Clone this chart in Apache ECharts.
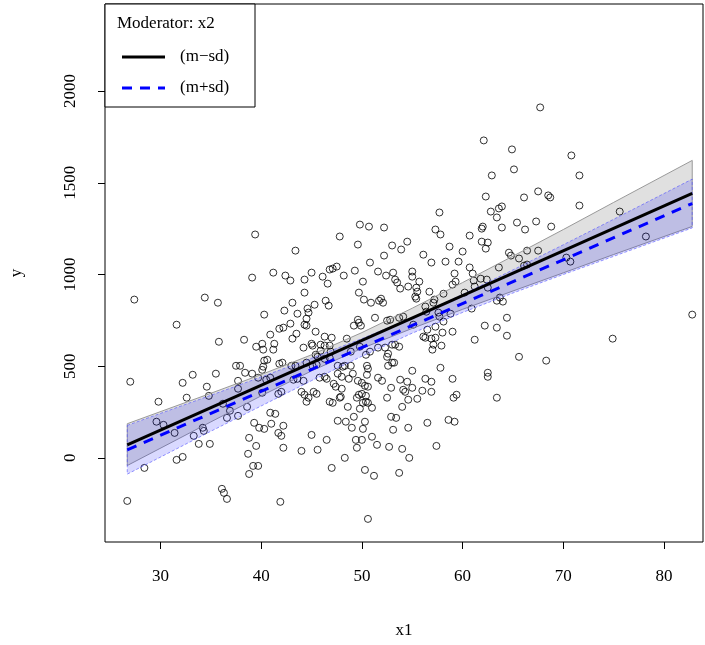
<!DOCTYPE html>
<html><head><meta charset="utf-8">
<script src="https://cdn.jsdelivr.net/npm/echarts@6/dist/echarts.min.js"></script>
<style>html,body{margin:0;padding:0;background:#fff}#c{width:705px;height:645px}</style>
</head><body><div id="c"></div>
<script>
// ---- data ----
var xTicks = [30, 40, 50, 60, 70, 80];
var yTicks = [0, 500, 1000, 1500, 2000];
var seriesNames = ['(m\u2212sd)', '(m+sd)'];
var legendTitle = 'Moderator: x2';

var scatterPts = [
[49.8,1272],[50.7,1261],[52.2,1256],
[67.7,1911],[62.1,1731],[64.9,1682],[65.1,1573],[62.9,1540],[62.3,1425],[66.1,1420],[67.5,1453],[68.5,1431],[68.7,1420],[57.7,1338],[62.8,1343],[63.6,1360],[63.9,1371],[63.4,1311],[67.3,1289],[65.4,1283],[68.8,1261],[62.0,1261],[61.9,1250],[63.9,1256],[66.2,1245],[57.3,1245],
[70.8,1649],[71.6,1540],[71.6,1376],[75.6,1343],
[39.4,1218],[39.1,983],[27.4,863],[34.4,874],[35.7,846],[31.6,726],[35.8,633],[38.3,644],[39.5,606],[37.5,502],[37.9,502],[33.2,453],[35.5,459],[38.4,464],[39.1,459],
[47.8,1207],[49.6,1163],[53.0,1158],[54.5,1179],[43.4,1130],[53.9,1136],[52.2,1103],[50.8,1065],[41.2,1010],[42.4,994],[42.9,967],[44.3,972],[45.0,1010],[46.1,988],[46.6,950],[46.8,1027],[47.1,1032],[47.5,1043],[48.2,994],[49.3,1021],[50.1,961],[51.6,1016],[52.4,994],[53.1,1010],[53.3,972],[53.5,956],[53.8,923],[54.6,934],[44.3,901],[49.7,901],[50.2,863],[50.9,846],[51.7,857],[51.9,868],[52.1,846],[43.1,846],[46.4,857],[46.7,830],[44.6,814],[44.7,792],[42.3,803],[40.3,781],[43.6,786],[45.3,835],[44.5,759],[51.3,764],[52.5,748],[52.8,753],[53.7,764],[54.1,770],[49.6,753],[49.7,737],[49.2,721],[49.9,721],[42.9,732],[44.3,726],[44.5,721],[42.2,710],[41.8,704],[40.9,672],[43.5,677],[43.1,650],[45.4,688],[46.3,661],[47.0,655],[48.5,650],[41.3,622],[40.1,622],[45.0,622],[45.1,612],[45.9,617],[44.2,601],[46.3,612],[46.8,612],[49.8,606],[51.6,601],[52.3,601],[53.0,617],[53.3,617],[53.7,606],[40.2,590],[41.2,590],[45.9,584],[46.9,579],[45.4,562],[45.6,551],[46.3,540],[46.8,546],[48.9,579],[50.4,562],[50.8,579],[52.6,568],[52.5,551],[40.3,530],[40.6,535],[41.8,513],[42.1,519],[45.5,508],[47.6,502],[48.1,497],[48.3,502],[48.9,502],[50.5,502],[50.6,486],[53.0,519],[53.2,519],[52.6,502],[43.0,502],[43.4,502],[40.2,497],[40.1,480],[44.5,519],[45.1,502],[47.6,459],[49.1,459],[50.5,453],
[57.8,1218],[60.7,1212],[61.9,1179],[62.5,1174],[62.3,1141],[58.7,1152],[60.0,1125],[56.1,1108],[56.9,1065],[58.3,1070],[59.6,1070],[64.6,1119],[64.8,1103],[65.6,1087],[66.4,1130],[67.5,1130],[60.7,1038],[61.0,1005],[63.6,1038],[66.1,1048],[66.4,1054],[55.0,1016],[55.0,988],[55.7,961],[59.2,1005],[59.3,961],[59.0,945],[61.1,967],[61.8,977],[62.4,972],[62.5,928],[61.2,934],[55.4,928],[55.5,906],[55.3,879],[55.4,868],[56.7,906],[58.1,895],[60.2,901],[63.7,874],[63.4,857],[64.0,852],[57.2,863],[57.1,846],[56.3,825],[56.4,797],[57.6,792],[57.7,770],[58.8,786],[60.9,814],[55.1,726],[58.1,743],[64.4,764],[57.3,715],[56.5,699],[62.2,721],[63.4,710],[58.0,683],[59.0,688],[56.1,661],[56.3,655],[56.9,650],[57.3,655],[64.4,666],[61.2,644],[57.1,617],[57.9,612],[57.0,590],[65.6,551],[68.3,530],[57.8,491],[55.0,475],[62.5,464],
[70.3,1092],[70.7,1070],[78.2,1207],[82.8,781],[74.9,650],
[27.0,415],[32.2,409],[34.6,388],[34.8,338],[37.7,420],[37.7,377],[39.7,437],[29.8,306],[32.6,328],[36.2,295],[36.9,257],[36.6,218],[37.7,229],[38.6,278],[29.6,197],[30.3,180],[31.4,136],[33.3,120],[34.2,164],[34.3,147],[33.8,76],[34.9,76],[39.3,191],[39.8,164],[38.8,109],[39.5,65],[38.7,22],[32.2,5],[31.6,-11],[28.4,-55],[39.2,-44],[39.7,-44],[38.8,-88],[36.1,-169],[36.3,-191],[36.6,-224],[26.7,-235],
[40.9,437],[40.5,426],[43.2,426],[43.6,431],[44.2,420],[45.8,437],[46.3,442],[46.5,431],[48.0,442],[48.7,431],[47.2,404],[47.4,388],[48.0,377],[49.6,420],[50.0,409],[50.3,393],[50.6,388],[51.6,437],[52.0,420],[52.9,382],[53.8,426],[54.5,415],[54.1,371],[54.3,360],[40.1,355],[41.7,349],[42.0,360],[44.0,360],[44.3,344],[44.7,328],[45.2,360],[45.5,349],[44.5,306],[46.8,306],[47.1,300],[47.8,328],[47.9,333],[49.5,328],[49.7,344],[50.0,349],[50.4,338],[50.1,300],[50.4,306],[50.6,300],[49.8,268],[51.0,273],[52.5,328],[54.6,317],[48.6,278],[54.0,278],[40.9,246],[41.4,240],[49.2,224],[52.9,224],[53.4,218],[47.6,202],[48.4,197],[50.3,197],[49.0,164],[50.1,158],[41.0,186],[42.2,175],[40.3,158],[41.7,136],[42.0,120],[45.0,125],[46.5,98],[49.4,98],[50.0,98],[51.0,115],[51.5,71],[53.1,153],[54.6,164],[42.2,55],[44.0,38],[45.6,44],[49.5,55],[52.7,60],[54.0,49],[48.3,0],[54.7,0],[47.0,-55],[50.3,-66],[51.2,-98],[53.7,-82],[41.9,-240],[50.6,-333],
[55.0,382],[56.3,431],[56.9,415],[59.0,431],[62.5,442],[56.0,366],[56.9,360],[55.5,322],[59.1,328],[59.4,344],[63.4,328],[56.5,191],[58.6,207],[59.2,197],[57.4,65]
];

// fitted lines (end points)
var lineX = [26.7, 82.8];
var lineLow = [71, 1442];    // (m-sd)
var lineHigh = [44, 1387];   // (m+sd)

// confidence bands
var bandX = [26.7, 35, 40, 45, 50, 55, 60, 65, 70, 75, 82.8];
var bandLowUpper = [186, 352, 454, 562, 683, 816, 956, 1100, 1245, 1393, 1622];
var bandLowLower = [-42, 196, 338, 474, 597, 706, 810, 910, 1009, 1109, 1262];
var bandHighUpper = [177, 341, 441, 543, 650, 764, 891, 1025, 1162, 1301, 1520];
var bandHighLower = [-89, 145, 283, 421, 554, 680, 793, 899, 1000, 1099, 1254];

// ---- chart ----
var FONT = '"Liberation Serif", "DejaVu Serif", serif';
function zip(a, b) { return a.map(function (v, i) { return [v, b[i]]; }); }
function bandSeries(upper, lower, fill, stroke, dash, z) {
  return {
    type: 'custom', z: z, silent: true,
    data: [[bandX[0], upper[0]]],
    renderItem: function (params, api) {
      var pts = [];
      for (var i = 0; i < bandX.length; i++) pts.push(api.coord([bandX[i], upper[i]]));
      for (var j = bandX.length - 1; j >= 0; j--) pts.push(api.coord([bandX[j], lower[j]]));
      return { type: 'polygon', shape: { points: pts },
        style: { fill: fill, stroke: stroke, lineWidth: 1, lineDash: dash } };
    }
  };
}
var chart = echarts.init(document.getElementById('c'), null, { renderer: 'canvas' });
var axisLabelStyle = { fontFamily: FONT, fontSize: 17, color: '#000' };
function plain(v) { return String(v); }
chart.setOption({
  animation: false,
  backgroundColor: '#fff',
  grid: { left: 105, right: 2, top: 4, bottom: 103, show: true, borderColor: '#000', borderWidth: 1, backgroundColor: 'transparent' },
  xAxis: {
    type: 'value', min: 24.49, max: 83.87,
    splitLine: { show: false }, axisLine: { show: false, onZero: false },
    axisTick: { show: true, length: 7, inside: false, customValues: xTicks, lineStyle: { color: '#000' } },
    axisLabel: Object.assign({ margin: 26, customValues: xTicks, formatter: plain }, axisLabelStyle),
    name: 'x1', nameLocation: 'middle', nameGap: 80, nameTextStyle: { fontFamily: FONT, fontSize: 17, color: '#000' }
  },
  yAxis: {
    type: 'value', min: -459, max: 2475,
    splitLine: { show: false }, axisLine: { show: false, onZero: false },
    axisTick: { show: true, length: 7, inside: false, customValues: yTicks, lineStyle: { color: '#000' } },
    axisLabel: Object.assign({ margin: 26, rotate: 90, customValues: yTicks, formatter: plain }, axisLabelStyle),
    name: 'y', nameLocation: 'middle', nameGap: 80, nameRotate: 90, nameTextStyle: { fontFamily: FONT, fontSize: 17, color: '#000' }
  },
  series: [
    { type: 'scatter', z: 1, data: scatterPts, symbol: 'circle', symbolSize: 7,
      itemStyle: { color: 'rgba(0,0,0,0)', borderColor: '#000', borderWidth: 1 } },
    bandSeries(bandLowUpper, bandLowLower, 'rgba(0,0,0,0.12)', '#999999', null, 2),
    bandSeries(bandHighUpper, bandHighLower, 'rgba(0,0,255,0.15)', 'rgba(80,80,255,0.6)', [3, 2], 3),
    { type: 'line', z: 5, name: seriesNames[0], data: zip(lineX, lineLow), showSymbol: false, symbol: 'none',
      lineStyle: { color: '#000', width: 3 } },
    { type: 'line', z: 6, name: seriesNames[1], data: zip(lineX, lineHigh), showSymbol: false, symbol: 'none',
      lineStyle: { color: '#0000ff', width: 3, type: [10, 8] } }
  ],
  graphic: [
    { type: 'rect', z: 100, shape: { x: 105, y: 4, width: 150, height: 103 }, style: { fill: '#fff', stroke: '#000', lineWidth: 1 } },
    { type: 'text', z: 101, x: 117, y: 24, style: { text: legendTitle, font: '17px ' + FONT, fill: '#000', verticalAlign: 'middle' } },
    { type: 'line', z: 101, shape: { x1: 122, y1: 57, x2: 165, y2: 57 }, style: { stroke: '#000', lineWidth: 3 } },
    { type: 'text', z: 101, x: 180, y: 57, style: { text: seriesNames[0], font: '17px ' + FONT, fill: '#000', verticalAlign: 'middle' } },
    { type: 'line', z: 101, shape: { x1: 122, y1: 88, x2: 165, y2: 88 }, style: { stroke: '#0000ff', lineWidth: 3, lineDash: [10, 8] } },
    { type: 'text', z: 101, x: 180, y: 88, style: { text: seriesNames[1], font: '17px ' + FONT, fill: '#000', verticalAlign: 'middle' } }
  ]
});
</script></body></html>
